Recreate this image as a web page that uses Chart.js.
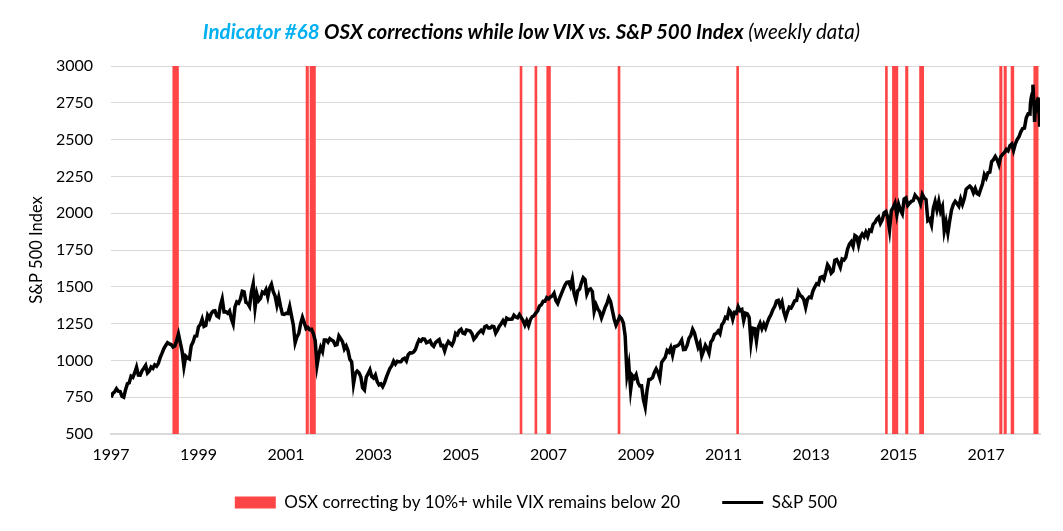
<!DOCTYPE html>
<html>
<head>
<meta charset="utf-8">
<script src="https://cdn.jsdelivr.net/npm/chart.js@4.4.1/dist/chart.umd.min.js"></script>
<style>
  html, body { margin: 0; padding: 0; background: #fff; }
  #wrap { position: relative; width: 1063px; height: 531px; }
  #title {
    position: absolute; left: 0; top: 19px; width: 1063px;
    text-align: center; font: italic bold 20.5px Lato, sans-serif;
    line-height: 24px; color: #000;
  }
  #title .hl { color: #00B0F0; }
  #title .lt { font-weight: normal; }
</style>
</head>
<body>
<div id="wrap">
  <canvas id="myChart"></canvas>
  <div id="title"><span class="hl">Indicator #68</span> OSX corrections while low VIX vs. S&amp;P 500 Index <span class="lt">(weekly data)</span></div>
</div>
<script>
// axis ticks
var xTickYears = [1997, 1999, 2001, 2003, 2005, 2007, 2009, 2011, 2013, 2015, 2017];
var yTicks = [500, 750, 1000, 1250, 1500, 1750, 2000, 2250, 2500, 2750, 3000];

var seriesNames = ['OSX correcting by 10%+ while VIX remains below 20', 'S&P 500'];

// OSX signal periods (decimal years)
var signalStart = [1998.40, 2001.45, 2001.54, 2006.34, 2006.68, 2006.95, 2008.58, 2011.29,
                   2014.69, 2014.85, 2015.15, 2015.47, 2017.30, 2017.40, 2017.56, 2018.08];
var signalEnd   = [1998.55, 2001.52, 2001.68, 2006.40, 2006.74, 2007.05, 2008.64, 2011.35,
                   2014.75, 2014.99, 2015.22, 2015.58, 2017.37, 2017.47, 2017.64, 2018.20];

// S&P 500, first week of 1997, then mid-month / month-end values per year
var spxStart = 748;
var spx1997 = [776, 786, 808, 791, 789, 757, 750, 801, 841, 848, 893, 885, 916, 954, 900, 899, 929, 947, 966, 915, 928, 955, 946, 970];
var spx1998 = [961, 980, 1020, 1049, 1080, 1102, 1120, 1112, 1108, 1091, 1098, 1134, 1180, 1121, 1062, 957, 1029, 1017, 1010, 1099, 1125, 1164, 1166, 1229];
var spx1999 = [1243, 1280, 1231, 1238, 1307, 1286, 1320, 1335, 1337, 1302, 1294, 1373, 1418, 1329, 1330, 1320, 1336, 1283, 1247, 1363, 1397, 1389, 1418, 1469];
var spx2000 = [1465, 1394, 1388, 1366, 1464, 1520, 1357, 1452, 1406, 1421, 1464, 1455, 1481, 1431, 1492, 1518, 1466, 1437, 1374, 1429, 1367, 1315, 1312, 1320];
var spx2001 = [1318, 1366, 1302, 1240, 1120, 1160, 1183, 1249, 1292, 1256, 1215, 1224, 1208, 1211, 1182, 1134, 966, 1041, 1089, 1060, 1139, 1139, 1124, 1148];
var spx2002 = [1138, 1130, 1104, 1107, 1166, 1147, 1126, 1077, 1098, 1067, 1007, 990, 840, 912, 928, 916, 889, 815, 800, 886, 910, 936, 890, 880];
var spx2003 = [901, 856, 834, 841, 822, 848, 885, 917, 946, 964, 995, 975, 994, 990, 990, 1008, 1014, 996, 1039, 1051, 1050, 1058, 1075, 1112];
var spx2004 = [1140, 1131, 1146, 1145, 1120, 1126, 1134, 1107, 1095, 1121, 1132, 1141, 1101, 1102, 1064, 1104, 1128, 1115, 1103, 1130, 1184, 1174, 1203, 1212];
var spx2005 = [1185, 1181, 1207, 1204, 1200, 1181, 1143, 1157, 1178, 1192, 1205, 1191, 1228, 1234, 1220, 1220, 1232, 1229, 1186, 1207, 1232, 1249, 1270, 1248];
var spx2006 = [1287, 1280, 1280, 1281, 1307, 1295, 1290, 1311, 1291, 1270, 1240, 1270, 1237, 1277, 1297, 1304, 1321, 1336, 1369, 1378, 1401, 1401, 1427, 1418];
var spx2007 = [1431, 1438, 1456, 1407, 1387, 1421, 1452, 1482, 1512, 1531, 1533, 1503, 1553, 1455, 1411, 1474, 1484, 1527, 1562, 1549, 1451, 1481, 1486, 1468];
var spx2008 = [1333, 1379, 1349, 1331, 1289, 1323, 1360, 1386, 1426, 1400, 1338, 1280, 1240, 1267, 1298, 1283, 1255, 1166, 900, 969, 800, 896, 880, 903];
var spx2009 = [850, 826, 827, 735, 683, 798, 870, 873, 882, 919, 943, 919, 880, 987, 1005, 1021, 1068, 1057, 1087, 1036, 1093, 1096, 1102, 1115];
var spx2010 = [1137, 1074, 1075, 1104, 1150, 1169, 1212, 1187, 1136, 1089, 1117, 1031, 1065, 1102, 1080, 1049, 1125, 1141, 1177, 1183, 1200, 1181, 1242, 1258];
var spx2011 = [1293, 1286, 1343, 1327, 1279, 1326, 1320, 1364, 1338, 1345, 1271, 1321, 1316, 1292, 1123, 1219, 1216, 1131, 1224, 1253, 1216, 1247, 1220, 1258];
var spx2012 = [1289, 1312, 1344, 1366, 1403, 1408, 1370, 1398, 1330, 1290, 1330, 1362, 1356, 1379, 1405, 1407, 1465, 1441, 1433, 1412, 1360, 1416, 1430, 1426];
var spx2013 = [1472, 1498, 1521, 1515, 1563, 1569, 1552, 1598, 1650, 1631, 1593, 1606, 1681, 1686, 1662, 1633, 1688, 1682, 1700, 1757, 1790, 1806, 1775, 1848];
var spx2014 = [1839, 1783, 1838, 1859, 1841, 1872, 1842, 1884, 1878, 1924, 1937, 1960, 1973, 1931, 1955, 2003, 2011, 1972, 1886, 2018, 2040, 2068, 1990, 2059];
var spx2015 = [2019, 1995, 2097, 2105, 2053, 2068, 2081, 2086, 2123, 2107, 2095, 2063, 2127, 2104, 2092, 1950, 1960, 1920, 2033, 2079, 2023, 2080, 2012, 2044];
var spx2016 = [1880, 1940, 1865, 1948, 2022, 2060, 2081, 2065, 2047, 2097, 2060, 2099, 2162, 2174, 2184, 2171, 2139, 2168, 2133, 2126, 2164, 2199, 2262, 2239];
var spx2017 = [2275, 2279, 2351, 2364, 2385, 2363, 2329, 2384, 2400, 2412, 2433, 2423, 2459, 2470, 2426, 2472, 2500, 2519, 2553, 2575, 2578, 2648, 2675, 2674];
// weekly closes, Jan 5 - Mar 23 2018
var spx2018 = [2743, 2786, 2810, 2873, 2762, 2620, 2732, 2747, 2691, 2786, 2752, 2588];

var spxByYear = [spx1997, spx1998, spx1999, spx2000, spx2001, spx2002, spx2003, spx2004, spx2005, spx2006, spx2007,
                 spx2008, spx2009, spx2010, spx2011, spx2012, spx2013, spx2014, spx2015, spx2016, spx2017];

var red = 'rgb(255, 69, 69)';
var font = { family: 'Lato, sans-serif', size: 16 };

var spxPoints = [{ x: 1997 + 2 / 365.25, y: spxStart }];
spxByYear.forEach(function (vals, k) {
    vals.forEach(function (v, i) { spxPoints.push({ x: 1997 + k + (i + 1) / 24, y: v }); });
});
spx2018.forEach(function (v, i) { spxPoints.push({ x: 2018 + (4 + 7 * i) / 365.25, y: v }); });

var yLo = yTicks[0], yHi = yTicks[yTicks.length - 1];
var signalPoints = [];
signalStart.forEach(function (s, i) {
    var e = signalEnd[i];
    signalPoints.push({ x: s, y: yLo }, { x: s, y: yHi }, { x: e, y: yHi }, { x: e, y: yLo });
});

// the legend needs wide gaps between items, so lift it closer to the axis
var legendLift = {
    id: 'legendLift',
    afterLayout: function (chart) {
        var l = chart.legend;
        var h = l.bottom - l.top;
        l.top = chart.chartArea.bottom + 18;
        l.bottom = l.top + h;
        l.left += 16;
        l.right += 16;
    }
};

var ctx = document.getElementById('myChart').getContext('2d');
var myChart = new Chart(ctx, {
    type: 'line',
    data: {
        datasets: [{
            label: seriesNames[0],
            data: signalPoints,
            borderWidth: 0,
            pointRadius: 0,
            backgroundColor: red,
            fill: 'start',
            order: 1
        }, {
            label: seriesNames[1],
            data: spxPoints,
            borderColor: '#000',
            borderWidth: 3.5,
            pointRadius: 0,
            tension: 0,
            fill: false,
            order: 0
        }]
    },
    plugins: [legendLift],
    options: {
        responsive: true,
        maintainAspectRatio: false,
        animation: false,
        layout: { padding: { top: 66, right: 23, left: 0, bottom: -8 } },
        plugins: {
            tooltip: { enabled: false },
            title: { display: false },
            legend: {
                position: 'bottom',
                labels: {
                    usePointStyle: true,
                    pointStyleWidth: 41,
                    boxHeight: 12,
                    padding: 42,
                    color: '#000',
                    font: { family: 'Lato, sans-serif', size: 17 },
                    generateLabels: function () {
                        return [
                            { text: seriesNames[0], fillStyle: red, strokeStyle: red, lineWidth: 0, pointStyle: 'rect', datasetIndex: 0, fontColor: '#000' },
                            { text: seriesNames[1], fillStyle: '#000', strokeStyle: '#000', lineWidth: 3, pointStyle: 'line', datasetIndex: 1, fontColor: '#000' }
                        ];
                    }
                }
            }
        },
        scales: {
            x: {
                type: 'linear',
                min: 1997,
                max: 2018.23,
                afterBuildTicks: function (s) { s.ticks = xTickYears.map(function (v) { return { value: v }; }); },
                afterFit: function (s) { s.height = 36; },
                ticks: {
                    callback: function (v) { return String(v); },
                    font: font, color: '#000', padding: 11, maxRotation: 0, autoSkip: false
                },
                grid: { display: false, drawTicks: false },
                border: { display: true, color: '#D9D9D9', width: 2 }
            },
            y: {
                min: yLo,
                max: yHi,
                afterBuildTicks: function (s) { s.ticks = yTicks.map(function (v) { return { value: v }; }); },
                afterFit: function (s) { s.width = 111; },
                ticks: {
                    callback: function (v) { return String(v); },
                    font: font, color: '#000', padding: 18
                },
                grid: { color: '#D9D9D9', lineWidth: 1, drawTicks: false },
                border: { display: false },
                title: { display: true, text: 'S&P 500 Index', font: { family: 'Lato, sans-serif', size: 16.5 }, color: '#000', padding: { top: 27, bottom: 0 } }
            }
        }
    }
});
</script>
</body>
</html>
